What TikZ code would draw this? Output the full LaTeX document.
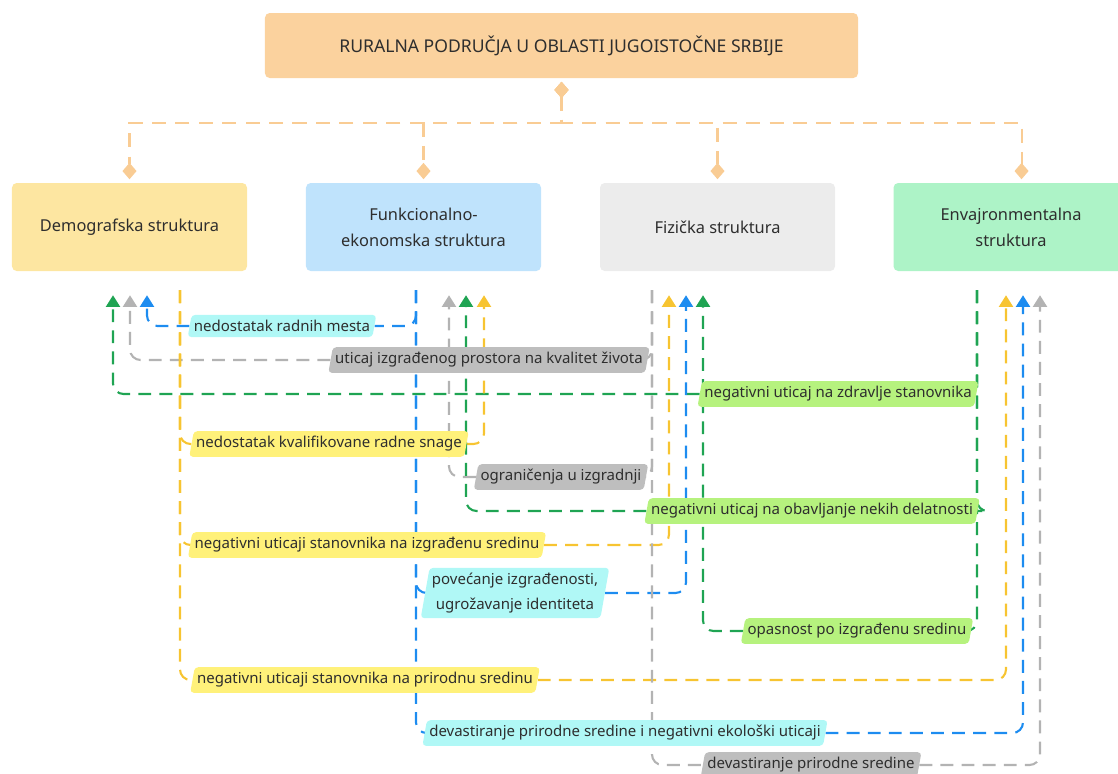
\documentclass[tikz,border=0pt]{standalone}
\usepackage{fontspec}
\setmainfont{Noto Sans}
\usetikzlibrary{arrows.meta, positioning, shapes.geometric, backgrounds}
\definecolor{ink}{HTML}{2E2E2E}
\definecolor{topfill}{HTML}{FBD29E}
\definecolor{orangeline}{HTML}{F9CC94}
\definecolor{demofill}{HTML}{FDE6A1}
\definecolor{funkfill}{HTML}{BFE3FC}
\definecolor{fizfill}{HTML}{ECECEC}
\definecolor{envfill}{HTML}{ADF3C7}
\definecolor{yline}{HTML}{F7C431}
\definecolor{bline}{HTML}{1D8CF0}
\definecolor{gline}{HTML}{B3B3B3}
\definecolor{grline}{HTML}{1FA453}
\definecolor{ylab}{HTML}{FFF17A}
\definecolor{blab}{HTML}{B0F8F6}
\definecolor{glab}{HTML}{BEBEBE}
\definecolor{grlab}{HTML}{B6F27E}

\begin{document}
\begin{tikzpicture}[
    x=0.03cm, y=-0.03cm,
    topbox/.style={minimum width=17.79cm, minimum height=1.95cm, rounded corners=4pt, fill=topfill, text=ink, font=\fontsize{15}{18}\selectfont},
    catbox/.style={minimum width=7.05cm, minimum height=2.64cm, rounded corners=4pt, align=center, text=ink, font=\fontsize{14}{22}\selectfont},
    tag/.style={trapezium, trapezium left angle=80, trapezium right angle=100, rounded corners=3pt, inner xsep=2pt, inner ysep=4.5pt, align=center, text=ink, font=\fontsize{12.8}{21}\selectfont},
    link/.style={line width=1.8pt, dash pattern=on 11pt off 7pt, rounded corners=9pt},
    tip/.style={-{Triangle[width=12pt,length=10pt]}},
    stem/.style={line width=1.8pt, dash pattern=on 12pt off 8pt, orangeline, {Diamond[width=12pt,length=14pt]}-{Diamond[width=12pt,length=14pt]}}
  ]
  \useasboundingbox (0,0) rectangle (1118,773);
  \clip (0,0) rectangle (1118,773);

  % Title and the four structures
  \node[topbox] (top) at (561.5,45.5) {RURALNA PODRUČJA U OBLASTI JUGOISTOČNE SRBIJE};
  \node[catbox, fill=demofill] (demo) at (129.5,227) {Demografska struktura};
  \node[catbox, fill=funkfill] (funk) at (423.5,227) {Funkcionalno-\\ekonomska struktura};
  \node[catbox, fill=fizfill] (fiz) at (717.5,227) {Fizička struktura};
  \node[catbox, fill=envfill] (env) at (1011,227) {Envajronmentalna\\struktura};

  \draw[stem] ([yshift=-3pt]top.south) -- ++(0,41) -| ([yshift=3pt]demo.north);
  \draw[stem] ([yshift=-3pt]top.south) -- ++(0,41) -| ([yshift=3pt]funk.north);
  \draw[stem] ([yshift=-3pt]top.south) -- ++(0,41) -| ([yshift=3pt]fiz.north);
  \draw[stem] ([yshift=-3pt]top.south) -- ++(0,41) -| ([xshift=9pt,yshift=3pt]env.north);

  % Ports under the boxes
  \path (demo.south) ++(50.5,19) coordinate (demo-out);
  \path (demo.south) ++(-16.5,24) coordinate (demo-in1);
  \path (demo.south) ++(0.5,24) coordinate (demo-in2);
  \path (demo.south) ++(17.5,24) coordinate (demo-in3);
  \path (funk.south) ++(-7.5,19) coordinate (funk-out);
  \path (funk.south) ++(25.5,24) coordinate (funk-in1);
  \path (funk.south) ++(42.5,24) coordinate (funk-in2);
  \path (funk.south) ++(60.5,24) coordinate (funk-in3);
  \path (fiz.south) ++(-65.5,19) coordinate (fiz-out);
  \path (fiz.south) ++(-48.5,24) coordinate (fiz-in1);
  \path (fiz.south) ++(-31.5,24) coordinate (fiz-in2);
  \path (fiz.south) ++(-14.5,24) coordinate (fiz-in3);
  \path (env.south) ++(-34,19) coordinate (env-out);
  \path (env.south) ++(-5,24) coordinate (env-in1);
  \path (env.south) ++(12,24) coordinate (env-in2);
  \path (env.south) ++(29,24) coordinate (env-in3);

  % Relations
  \node[tag, fill=blab] (radna) at (282,326) {nedostatak radnih mesta};
  \node[tag, fill=glab] (kvalitet) at (489,360) {uticaj izgrađenog prostora na kvalitet života};
  \node[tag, fill=grlab] (zdravlje) at (838,394) {negativni uticaj na zdravlje stanovnika};
  \node[tag, fill=ylab] (snaga) at (329,444) {nedostatak kvalifikovane radne snage};
  \node[tag, fill=glab] (izgradnja) at (561,477) {ograničenja u izgradnji};
  \node[tag, fill=grlab] (delatnost) at (812,511) {negativni uticaj na obavljanje nekih delatnosti};
  \node[tag, fill=ylab] (izgradjena) at (367,545) {negativni uticaji stanovnika na izgrađenu sredinu};
  \node[tag, fill=blab] (identitet) at (515,593) {povećanje izgrađenosti,\\ugrožavanje identiteta};
  \node[tag, fill=grlab] (opasnost) at (857,631) {opasnost po izgrađenu sredinu};
  \node[tag, fill=ylab] (prirodna) at (365,680) {negativni uticaji stanovnika na prirodnu sredinu};
  \node[tag, fill=blab] (ekologija) at (625,733) {devastiranje prirodne sredine i negativni ekološki uticaji};
  \node[tag, fill=glab] (devastacija) at (811,765) {devastiranje prirodne sredine};

  \begin{scope}[on background layer]
    \draw[link, bline] (funk-out) |- (radna.east);
    \draw[link, bline, tip] (radna.west) -| (demo-in3);
    \draw[link, gline] (fiz-out) |- (kvalitet.east);
    \draw[link, gline, tip] (kvalitet.west) -| (demo-in2);
    \draw[link, grline] (env-out) |- (zdravlje.east);
    \draw[link, grline, tip] (zdravlje.west) -| (demo-in1);
    \draw[link, yline] (demo-out) |- (snaga.west);
    \draw[link, yline, tip] (snaga.east) -| (funk-in3);
    \draw[link, gline] (fiz-out) |- (izgradnja.east);
    \draw[link, gline, tip] (izgradnja.west) -| (funk-in1);
    \draw[link, grline] (env-out) |- (delatnost.east);
    \draw[link, grline, tip] (delatnost.west) -| (funk-in2);
    \draw[link, yline] (demo-out) |- (izgradjena.west);
    \draw[link, yline, tip] (izgradjena.east) -| (fiz-in1);
    \draw[link, bline] (funk-out) |- (identitet.west);
    \draw[link, bline, tip] (identitet.east) -| (fiz-in2);
    \draw[link, grline] (env-out) |- (opasnost.east);
    \draw[link, grline, tip] (opasnost.west) -| (fiz-in3);
    \draw[link, yline] (demo-out) |- (prirodna.west);
    \draw[link, yline, tip] (prirodna.east) -| (env-in1);
    \draw[link, bline] (funk-out) |- (ekologija.west);
    \draw[link, bline, tip] (ekologija.east) -| (env-in2);
    \draw[link, gline] (fiz-out) |- (devastacija.west);
    \draw[link, gline, tip] (devastacija.east) -| (env-in3);
  \end{scope}
\end{tikzpicture}
\end{document}
